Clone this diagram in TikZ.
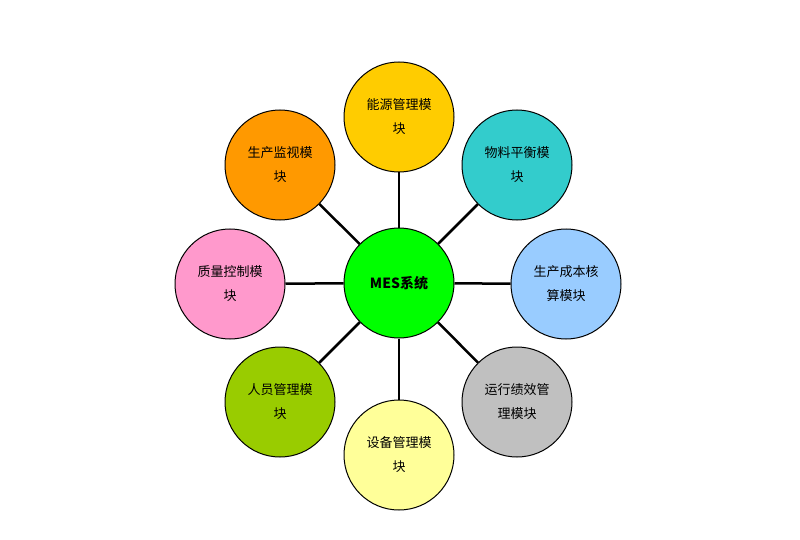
\documentclass[tikz,border=0pt]{standalone}
\usepackage{fontspec}
\setmainfont{Liberation Sans}
\newfontfamily\cjk{Noto Sans CJK SC}
\begin{document}
\begin{tikzpicture}[x=1pt,y=-1pt,
  mod/.style={circle,draw=black,line width=1pt,minimum size=110pt,inner sep=0pt,align=center,font=\cjk\fontsize{13}{24}\selectfont},
  link/.style={line width=2.5pt,black}]
\useasboundingbox (0,0) rectangle (800,540);
\fill[white] (0,0) rectangle (800,540);
\node[mod,fill={rgb,255:red,0;green,255;blue,0},font=\cjk\bfseries\fontsize{14}{20}\selectfont] (c) at (399,283) {MES系统};
\node[mod,fill={rgb,255:red,255;green,204;blue,0}] (a) at (399,117) {能源管理模\\块};
\node[mod,fill={rgb,255:red,51;green,204;blue,204}] (b) at (517,165) {物料平衡模\\块};
\node[mod,fill={rgb,255:red,153;green,204;blue,255}] (d) at (566,284) {生产成本核\\算模块};
\node[mod,fill={rgb,255:red,192;green,192;blue,192}] (e) at (517,402) {运行绩效管\\理模块};
\node[mod,fill={rgb,255:red,255;green,255;blue,153}] (f) at (399,455) {设备管理模\\块};
\node[mod,fill={rgb,255:red,153;green,204;blue,0}] (g) at (280,402) {人员管理模\\块};
\node[mod,fill={rgb,255:red,255;green,153;blue,204}] (h) at (230,284) {质量控制模\\块};
\node[mod,fill={rgb,255:red,255;green,153;blue,0}] (i) at (280,165) {生产监视模\\块};
\foreach \n in {a,b,d,e,f,g,h,i} \draw[link] (c) -- (\n);
\end{tikzpicture}
\end{document}
